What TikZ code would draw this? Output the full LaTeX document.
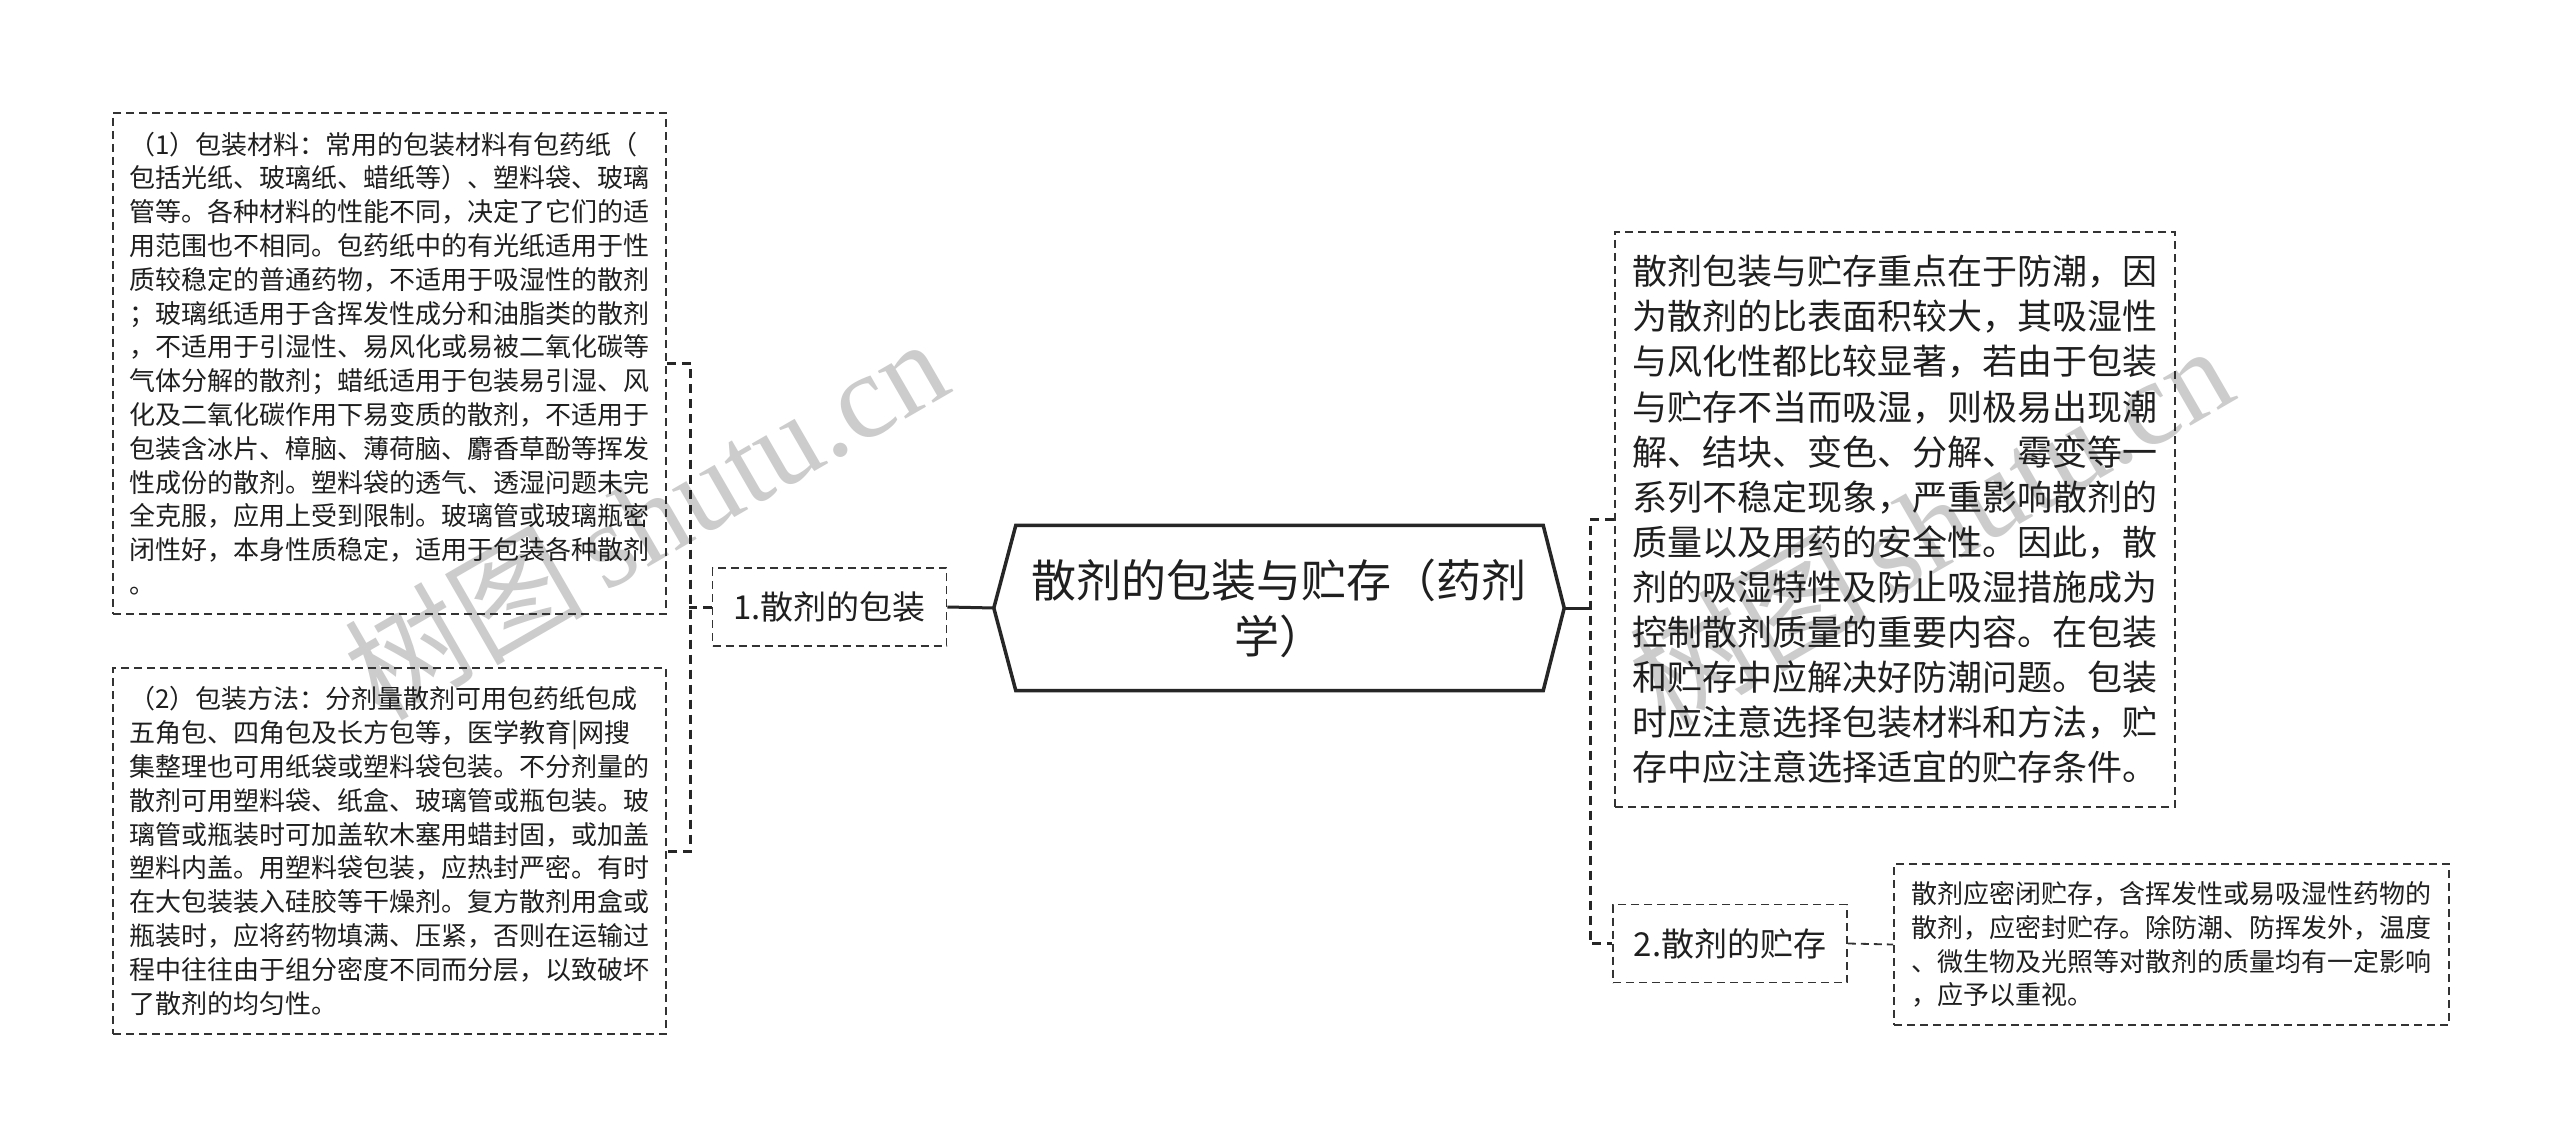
\documentclass[tikz,border=0pt]{standalone}
\usepackage{fontspec}
\setmainfont{Noto Sans CJK SC}
\newfontfamily\wmserif{Liberation Serif}
\newfontfamily\wmcjk{Noto Sans CJK SC}
\begin{document}
\begin{tikzpicture}[x=1pt,y=-1pt,
  txtbox/.style={draw=black!80, dash pattern=on 8pt off 5pt, line width=1.8pt,
    inner sep=0pt, align=left, text=black!88, font=\fontsize{26}{33.8}\selectfont},
  labelbox/.style={draw=black!80, dash pattern=on 8pt off 5pt, line width=1.8pt,
    inner sep=0pt, align=center, text=black!88, font=\fontsize{33}{38}\selectfont,
    minimum width=234, minimum height=78},
  bracket/.style={draw=black!85, dash pattern=on 9pt off 6pt, line width=3pt},
  solidconn/.style={draw=black!85, line width=3.5pt},
  wm/.style={rotate=30, text=black!20, inner sep=0pt}
]
\fill[white] (0,0) rectangle (2560,1147);
\useasboundingbox (0,0) rectangle (2560,1147);

% watermarks
\node[wm] (wm1) at (645,517) {\fontsize{120}{120}\selectfont{\wmcjk 树图}\,{\wmserif shutu.cn}};
\node[wm] (wm2) at (1930,524) {\fontsize{120}{120}\selectfont{\wmcjk 树图}\,{\wmserif shutu.cn}};

% central node
\node[align=center, text=black!88, font=\fontsize{45}{56}\selectfont,
  minimum width=570, minimum height=165, inner sep=0pt] (root) at (1279,608)
  {散剂的包装与贮存（药剂\\学）};
\draw[solidconn, line width=3.5pt] (root.west) -- ([xshift=22]root.north west)
  -- ([xshift=-21]root.north east) -- (root.east)
  -- ([xshift=-21]root.south east) -- ([xshift=22]root.south west) -- cycle;

% left branch
\node[labelbox] (n1) at (829.5,607) {1.散剂的包装};
\node[txtbox, minimum width=553, minimum height=501] (b1) at (389.5,363.5)
{（1）包装材料：常用的包装材料有包药纸（\\
包括光纸、玻璃纸、蜡纸等）、塑料袋、玻璃\\
管等。各种材料的性能不同，决定了它们的适\\
用范围也不相同。包药纸中的有光纸适用于性\\
质较稳定的普通药物，不适用于吸湿性的散剂\\
；玻璃纸适用于含挥发性成分和油脂类的散剂\\
，不适用于引湿性、易风化或易被二氧化碳等\\
气体分解的散剂；蜡纸适用于包装易引湿、风\\
化及二氧化碳作用下易变质的散剂，不适用于\\
包装含冰片、樟脑、薄荷脑、麝香草酚等挥发\\
性成份的散剂。塑料袋的透气、透湿问题未完\\
全克服，应用上受到限制。玻璃管或玻璃瓶密\\
闭性好，本身性质稳定，适用于包装各种散剂\\
。};
\node[txtbox, minimum width=553, minimum height=366] (b2) at (389.5,851)
{（2）包装方法：分剂量散剂可用包药纸包成\\
五角包、四角包及长方包等，医学教育|网搜\\
集整理也可用纸袋或塑料袋包装。不分剂量的\\
散剂可用塑料袋、纸盒、玻璃管或瓶包装。玻\\
璃管或瓶装时可加盖软木塞用蜡封固，或加盖\\
塑料内盖。用塑料袋包装，应热封严密。有时\\
在大包装装入硅胶等干燥剂。复方散剂用盒或\\
瓶装时，应将药物填满、压紧，否则在运输过\\
程中往往由于组分密度不同而分层，以致破坏\\
了散剂的均匀性。};

% right branch
\node[txtbox, font=\fontsize{35}{45.1}\selectfont, minimum width=560, minimum height=575] (big) at (1895,519.5)
{散剂包装与贮存重点在于防潮，因\\
为散剂的比表面积较大，其吸湿性\\
与风化性都比较显著，若由于包装\\
与贮存不当而吸湿，则极易出现潮\\
解、结块、变色、分解、霉变等一\\
系列不稳定现象，严重影响散剂的\\
质量以及用药的安全性。因此，散\\
剂的吸湿特性及防止吸湿措施成为\\
控制散剂质量的重要内容。在包装\\
和贮存中应解决好防潮问题。包装\\
时应注意选择包装材料和方法，贮\\
存中应注意选择适宜的贮存条件。};
\node[labelbox] (n2) at (1730,943.5) {2.散剂的贮存};
\node[txtbox, minimum width=555, minimum height=161] (sm) at (2171.5,944.5)
{散剂应密闭贮存，含挥发性或易吸湿性药物的\\
散剂，应密封贮存。除防潮、防挥发外，温度\\
、微生物及光照等对散剂的质量均有一定影响\\
，应予以重视。};

% connectors
\draw[solidconn, line width=3pt] (n1.east) -- (root.west);
\draw[bracket] (b1.east) -- ++(24,0) |- (b2.east);
\draw[bracket] (n1.west) -- ++(-23,0);
\draw[solidconn, line width=3pt] (root.east) -- ++(27,0);
\draw[bracket] (big.west) -- ++(-24,0) |- (n2.west);
\draw[draw=black!80, dash pattern=on 8pt off 5pt, line width=1.8pt] (n2.east) -- (sm.west);
\end{tikzpicture}
\end{document}
